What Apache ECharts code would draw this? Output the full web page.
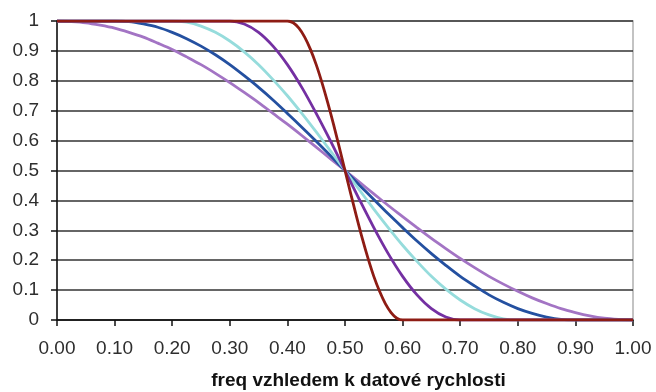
<!DOCTYPE html>
<html>
<head>
<meta charset="utf-8">
<script src="https://cdn.jsdelivr.net/npm/echarts@6/dist/echarts.min.js"></script>
<style>
  html, body { margin: 0; padding: 0; background: #fff; }
  #chart { width: 656px; height: 392px; }
</style>
</head>
<body>
<div id="chart"></div>
<script>
// Raised-cosine style frequency responses, one curve per roll-off.
// Frequency relative to the data rate (shared grid for the gentler curves).
const freq = [0, 0.025, 0.05, 0.075, 0.1, 0.125, 0.15, 0.175, 0.2, 0.225, 0.25, 0.275, 0.3, 0.325, 0.35, 0.375, 0.4, 0.425, 0.45, 0.475, 0.5,
              0.525, 0.55, 0.575, 0.6, 0.625, 0.65, 0.675, 0.7, 0.725, 0.75, 0.775, 0.8, 0.825, 0.85, 0.875, 0.9, 0.925, 0.95, 0.975, 1];

// widest roll-off (light purple)
const rollWide = [1, 0.998, 0.994, 0.986, 0.976, 0.962, 0.946, 0.926, 0.905, 0.880, 0.854, 0.825, 0.794, 0.761, 0.727, 0.691, 0.655, 0.617, 0.578, 0.539, 0.5,
                  0.461, 0.422, 0.383, 0.346, 0.309, 0.273, 0.239, 0.206, 0.175, 0.146, 0.120, 0.096, 0.074, 0.055, 0.038, 0.025, 0.014, 0.006, 0.002, 0];
// blue
const rollBlue = [1, 1, 1, 1, 1, 0.998, 0.990, 0.979, 0.962, 0.941, 0.916, 0.887, 0.854, 0.817, 0.778, 0.736, 0.691, 0.645, 0.598, 0.549, 0.5,
                  0.451, 0.403, 0.355, 0.309, 0.264, 0.222, 0.183, 0.146, 0.114, 0.084, 0.059, 0.038, 0.022, 0.010, 0.002, 0, 0, 0, 0, 0];
// cyan
const rollCyan = [1, 1, 1, 1, 1, 1, 1, 1, 1, 0.996, 0.983, 0.962, 0.933, 0.897, 0.854, 0.804, 0.75, 0.691, 0.629, 0.565, 0.5,
                  0.435, 0.371, 0.309, 0.25, 0.196, 0.146, 0.103, 0.067, 0.038, 0.017, 0.004, 0, 0, 0, 0, 0, 0, 0, 0, 0];
// purple
const rollPurple = [1, 1, 1, 1, 1, 1, 1, 1, 1, 1, 1, 1, 1, 0.990, 0.962, 0.916, 0.854, 0.778, 0.691, 0.598, 0.5,
                    0.403, 0.309, 0.222, 0.146, 0.084, 0.038, 0.010, 0, 0, 0, 0, 0, 0, 0, 0, 0, 0, 0, 0, 0];

// steepest roll-off (dark red), sampled more finely
const freqRed = [0, 0.1, 0.2, 0.3, 0.4, 0.41, 0.42, 0.43, 0.44, 0.45, 0.46, 0.47, 0.48, 0.49, 0.5,
                 0.51, 0.52, 0.53, 0.54, 0.55, 0.56, 0.57, 0.58, 0.59, 0.6, 0.7, 0.8, 0.9, 1];
const rollRed = [1, 1, 1, 1, 1, 0.994, 0.976, 0.946, 0.905, 0.854, 0.794, 0.727, 0.655, 0.578, 0.5,
                 0.422, 0.346, 0.273, 0.206, 0.146, 0.096, 0.055, 0.025, 0.006, 0, 0, 0, 0, 0];

const xTicks = ['0.00', '0.10', '0.20', '0.30', '0.40', '0.50', '0.60', '0.70', '0.80', '0.90', '1.00'];
const yTicks = ['0', '0.1', '0.2', '0.3', '0.4', '0.5', '0.6', '0.7', '0.8', '0.9', '1'];

const pairs = (xs, ys) => xs.map((x, i) => [x, ys[i]]);

const curves = [
  { name: 'roll-off 1.0', x: freq, y: rollWide, color: '#a374c4' },
  { name: 'roll-off 0.8', x: freq, y: rollBlue, color: '#2450a0' },
  { name: 'roll-off 0.6', x: freq, y: rollCyan, color: '#96dcdc' },
  { name: 'roll-off 0.4', x: freq, y: rollPurple, color: '#7430a2' },
  { name: 'roll-off 0.2', x: freqRed, y: rollRed, color: '#8e1c14' }
];

const labelFont = { fontFamily: 'Liberation Sans, Arial, sans-serif', fontSize: 19, color: '#2e2e2e' };

const chart = echarts.init(document.getElementById('chart'), null, { renderer: 'canvas' });
chart.setOption({
  animation: false,
  backgroundColor: '#fff',
  grid: {
    left: 57, right: 23, top: 21, bottom: 72,
    show: true, borderColor: '#b0b0b0', borderWidth: 1.5,
    containLabel: false, outerBoundsMode: 'none'
  },
  xAxis: {
    type: 'value', min: 0, max: 1, interval: 0.1,
    name: 'freq vzhledem k datové rychlosti',
    nameLocation: 'middle', nameGap: 51,
    nameTextStyle: { fontFamily: 'Liberation Sans, Arial, sans-serif', fontSize: 19, fontWeight: 'bold', color: '#111', padding: [0, 0, 0, 27] },
    axisLine: { show: true, onZero: false, lineStyle: { color: '#111', width: 1.5 } },
    axisTick: { show: true, length: 6, lineStyle: { color: '#111', width: 1.5 } },
    axisLabel: Object.assign({ margin: 19, formatter: (v) => xTicks[Math.round(v * 10)] }, labelFont),
    splitLine: { show: false }
  },
  yAxis: {
    type: 'value', min: 0, max: 1, interval: 0.1,
    axisLine: { show: true, lineStyle: { color: '#111', width: 1.5 } },
    axisTick: { show: true, length: 6, lineStyle: { color: '#111', width: 1.5 } },
    axisLabel: Object.assign({ margin: 18, formatter: (v) => yTicks[Math.round(v * 10)] }, labelFont),
    splitLine: { show: true, lineStyle: { color: '#333', width: 1.6 } }
  },
  series: curves.map(c => ({
    name: c.name,
    type: 'line',
    data: pairs(c.x, c.y),
    showSymbol: false,
    smooth: 0.3,
    lineStyle: { color: c.color, width: 2.8 },
    itemStyle: { color: c.color },
    z: 3
  }))
});
</script>
</body>
</html>
